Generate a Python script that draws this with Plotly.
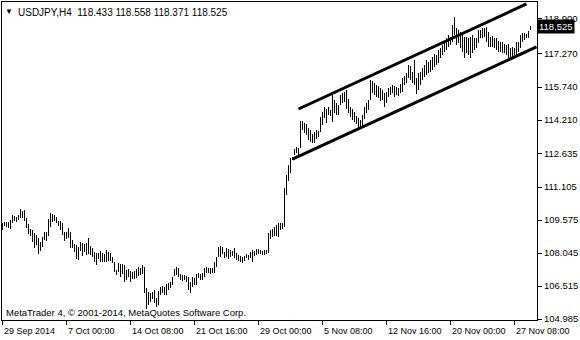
import plotly.graph_objects as go

# ---- data (USDJPY H4) ----
highs = [109.42, 109.47, 109.47, 109.47, 109.57, 109.83, 109.77, 109.73, 109.80, 110.08,
         110.01, 110.03, 109.68, 109.37, 109.15, 109.11, 108.95, 108.88, 108.72, 108.57,
         108.78, 109.00, 109.03, 109.62, 109.88, 109.87, 109.83, 109.73, 109.53, 109.53,
         109.42, 109.03, 109.00, 109.22, 109.00, 108.64, 108.45, 108.41, 108.32, 108.54,
         108.49, 108.45, 108.49, 108.76, 108.38, 108.29, 108.10, 108.03, 108.03, 108.13,
         108.03, 107.98, 108.18, 108.10, 108.03, 107.87, 107.64, 107.25, 107.56, 107.53,
         107.52, 107.49, 107.25, 107.30, 107.21, 107.15, 107.20, 107.30,
         107.38, 107.34, 107.49, 107.38, 106.41, 106.25, 106.18, 106.25, 106.33, 105.94,
         106.30, 106.49, 106.52, 106.45, 106.61, 106.64, 106.72, 106.95, 107.29, 107.41,
         107.34, 107.07, 107.03, 107.03, 106.98, 106.92, 106.72, 106.95, 106.87, 107.07,
         107.13, 107.07, 107.10, 107.34, 107.41, 107.34, 107.34, 107.34, 107.64, 107.88,
         108.34, 108.37, 108.34, 108.11, 108.26, 108.22, 108.18, 108.15, 108.26, 108.06,
         107.95, 107.91, 107.88, 107.91, 108.00, 107.95, 108.11, 108.18, 108.15, 108.22,
         108.22, 108.18, 108.15, 108.18, 108.18, 108.96, 109.11, 109.17, 109.27, 109.34,
         109.45, 109.45, 109.42, 111.04, 111.66, 112.12,
         112.43, 112.51, 112.85, 112.94, 112.90, 114.15, 114.18, 114.09, 114.02, 113.82,
         113.75, 113.56, 113.67, 113.75, 113.71, 114.36, 114.60, 114.80, 114.70, 114.83,
         114.67, 115.45, 115.14, 115.01, 114.90, 115.37, 115.45, 115.52, 115.60, 115.17,
         114.83, 114.70, 114.60, 114.39, 114.29, 114.21, 114.44, 114.83, 115.01, 115.14,
         116.06, 116.03, 115.91, 115.83, 115.79, 115.68, 115.60, 115.45, 115.52, 115.68,
         115.75, 115.83, 115.79, 115.75, 115.68, 115.88, 116.14, 116.25, 116.37, 116.76,
         116.71, 116.45, 116.99, 116.14,
         116.37, 116.45, 116.60, 116.76, 116.99, 116.91, 116.99, 117.15, 117.25, 117.22,
         117.45, 117.53, 117.69, 117.84, 117.99, 118.15, 118.07, 118.61, 118.98,
         118.46, 118.38, 118.30, 118.23, 118.07, 118.07, 117.99, 118.07, 118.15, 117.99,
         117.99, 118.38, 118.38, 118.46, 118.49, 118.54, 118.30, 118.07, 118.12, 117.99,
         117.99, 117.87, 117.84, 117.81, 117.72, 117.69, 117.72, 117.53, 117.61, 117.53,
         117.84, 117.84, 118.15, 118.23, 118.23, 118.18, 118.34, 118.558]
lows = [109.11, 109.31, 109.26, 109.19, 109.14, 109.42, 109.53, 109.49, 109.57, 109.65,
        109.68, 109.53, 109.19, 108.91, 108.85, 108.57, 108.29, 108.41, 107.98, 108.13,
        108.34, 108.64, 108.60, 108.85, 109.26, 109.49, 109.53, 109.42, 109.31, 109.11,
        108.88, 108.60, 108.68, 108.72, 108.29, 108.26, 108.07, 107.79, 107.72, 108.13,
        107.92, 108.07, 107.95, 107.98, 107.95, 107.87, 107.64, 107.49, 107.75, 107.64,
        107.64, 107.64, 107.64, 107.67, 107.67, 107.56, 107.15, 107.02, 107.15, 106.95,
        107.05, 106.68, 106.79, 106.95, 106.68, 106.84, 106.85, 106.90,
        106.98, 107.03, 107.07, 106.18, 105.43, 105.64, 105.79, 105.90, 105.71, 105.53,
        105.64, 106.10, 106.18, 106.10, 106.10, 106.33, 106.41, 106.56, 106.98, 107.03,
        106.92, 106.79, 106.76, 106.79, 106.72, 106.33, 106.21, 106.49, 106.56, 106.56,
        106.87, 106.79, 106.79, 106.95, 107.10, 107.10, 107.07, 107.10, 107.13, 107.41,
        107.88, 107.85, 108.00, 107.80, 107.88, 107.75, 107.88, 107.91, 107.80, 107.72,
        107.69, 107.64, 107.60, 107.69, 107.80, 107.72, 107.80, 107.64, 107.91, 107.95,
        108.00, 108.00, 107.95, 107.95, 108.00, 108.06, 108.68, 108.77, 108.83, 108.83,
        108.77, 109.11, 109.14, 109.27, 110.73, 111.40,
        111.74, 112.36, 112.59, 112.66, 112.51, 112.91, 113.75, 113.62, 113.51, 113.28,
        113.20, 113.13, 113.16, 113.31, 113.41, 113.67, 113.98, 114.29, 114.05, 114.44,
        114.39, 114.13, 114.52, 114.44, 114.44, 114.90, 114.98, 115.06, 114.70, 114.52,
        114.36, 114.21, 114.13, 114.02, 113.90, 113.82, 113.93, 114.24, 114.55, 114.67,
        115.14, 115.48, 115.37, 115.29, 115.21, 115.10, 115.14, 114.83, 114.98, 115.26,
        115.37, 115.45, 115.29, 115.37, 115.32, 115.45, 115.52, 115.83, 115.91, 116.14,
        116.06, 115.91, 115.83, 115.40,
        115.60, 115.83, 116.06, 116.22, 116.30, 116.37, 116.45, 116.53, 116.68, 116.76,
        116.84, 117.07, 117.22, 117.38, 117.45, 117.61, 117.69, 117.84, 118.15,
        117.69, 117.76, 117.53, 117.38, 117.07, 117.30, 117.22, 117.07, 117.30, 117.45,
        117.56, 117.76, 117.99, 117.99, 118.07, 117.84, 117.61, 117.61, 117.61, 117.53,
        117.45, 117.38, 117.38, 117.30, 117.30, 117.22, 117.07, 117.15, 117.10, 117.22,
        117.22, 117.38, 117.53, 117.84, 117.92, 117.99, 117.99, 118.371]
bar_index = list(range(len(highs)))

time_tick_index = [0, 32, 64, 96, 128, 160, 192, 224, 256]
time_tick_labels = ["29 Sep 2014", "7 Oct 00:00", "14 Oct 08:00", "21 Oct 16:00",
                    "29 Oct 00:00", "5 Nov 08:00", "12 Nov 16:00", "20 Nov 00:00",
                    "27 Nov 08:00"]
price_ticks = [104.985, 106.515, 108.045, 109.575, 111.105, 112.635, 114.210,
               115.740, 117.270, 118.900]
price_tick_labels = ["104.985", "106.515", "108.045", "109.575", "111.105",
                     "112.635", "114.210", "115.740", "117.270", "118.900"]
last_ohlc = [118.433, 118.558, 118.371, 118.525]
symbol = "USDJPY,H4"

channel_upper_x = [148, 262]
channel_upper_y = [114.72, 119.59]
channel_lower_x = [145, 267]
channel_lower_y = [112.40, 117.60]

FONT = "Liberation Sans, Arial, sans-serif"

fig = go.Figure()
fig.add_trace(go.Bar(
    x=bar_index,
    y=[h - l for h, l in zip(highs, lows)],
    base=lows,
    width=0.5,
    marker=dict(color="black", line=dict(width=0)),
    hoverinfo="skip",
))
fig.add_trace(go.Scatter(x=channel_upper_x, y=channel_upper_y, mode="lines",
                         line=dict(color="black", width=3), hoverinfo="skip"))
fig.add_trace(go.Scatter(x=channel_lower_x, y=channel_lower_y, mode="lines",
                         line=dict(color="black", width=3), hoverinfo="skip"))

annotations = []
for idx, lab in zip(time_tick_index, time_tick_labels):
    annotations.append(dict(x=idx, y=0, xref="x", yref="paper", text=lab,
                            showarrow=False, xanchor="left", yanchor="top",
                            xshift=-1, yshift=-4,
                            font=dict(family=FONT, size=9, color="black")))
annotations.append(dict(x=0, y=1, xref="paper", yref="paper", text="▼",
                        showarrow=False, xanchor="left", yanchor="top",
                        xshift=1, yshift=-3,
                        font=dict(family=FONT, size=8, color="black")))
annotations.append(dict(x=0, y=1, xref="paper", yref="paper",
                        text=symbol + "\u00a0\u00a0" + " ".join(f"{v:.3f}" for v in last_ohlc),
                        showarrow=False, xanchor="left", yanchor="top",
                        xshift=14, yshift=-3,
                        font=dict(family=FONT, size=10, color="black")))
annotations.append(dict(x=0, y=0, xref="paper", yref="paper",
                        text="MetaTrader 4, © 2001-2014, MetaQuotes Software Corp.",
                        showarrow=False, xanchor="left", yanchor="bottom",
                        xshift=2, yshift=0,
                        font=dict(family=FONT, size=9.5, color="black")))
annotations.append(dict(x=1, y=last_ohlc[3], xref="paper", yref="y",
                        text=f"{last_ohlc[3]:.3f}", showarrow=False,
                        xanchor="left", yanchor="middle", xshift=0,
                        bgcolor="black", borderpad=1,
                        font=dict(family=FONT, size=9.5, color="white")))

fig.update_layout(
    width=580, height=340,
    margin=dict(l=2, r=43, t=2, b=20),
    paper_bgcolor="white", plot_bgcolor="white",
    showlegend=False,
    annotations=annotations,
    bargap=0,
    xaxis=dict(range=[-0.25, 267.25], showgrid=False, zeroline=False,
               showline=True, mirror=True, linecolor="black", linewidth=1,
               ticks="outside", ticklen=4, tickcolor="black",
               tickvals=time_tick_index, showticklabels=False, fixedrange=True),
    yaxis=dict(range=[104.94, 119.68], side="right", showgrid=False,
               zeroline=False, showline=True, mirror=True, linecolor="black",
               linewidth=1, ticks="outside", ticklen=4, tickcolor="black",
               tickvals=price_ticks, ticktext=price_tick_labels,
               tickfont=dict(family=FONT, size=9.5, color="black"),
               fixedrange=True),
)

fig.write_html("out.html")
